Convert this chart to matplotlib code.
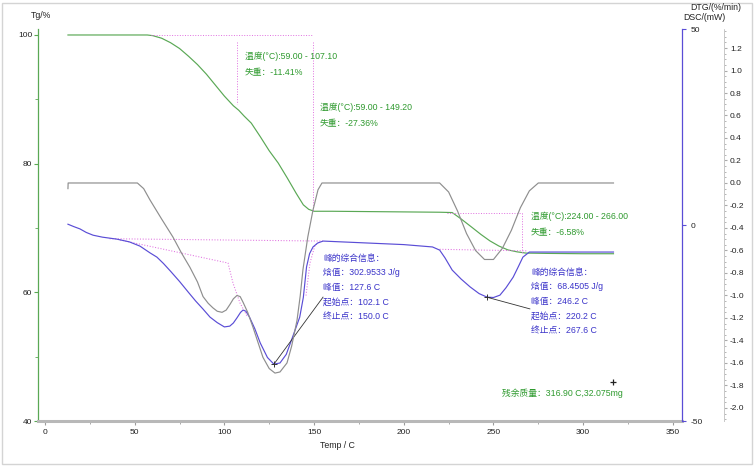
import numpy as np
import matplotlib
matplotlib.use("Agg")
import matplotlib.pyplot as plt
from matplotlib.patches import Rectangle
from matplotlib.ticker import FixedLocator, MultipleLocator

plt.rcParams['font.family'] = ['Liberation Sans', 'Noto Sans CJK SC', 'DejaVu Sans']
plt.rcParams['axes.unicode_minus'] = False

# %% DATA
tg_temp = [12.8, 30, 57, 60, 65, 70, 75, 80, 85, 90, 95, 100, 105, 108, 111, 115, 120, 125,
           130, 135, 140, 144, 147, 150, 160, 180, 200, 220, 227, 232, 238, 243, 248, 253,
           258, 263, 268, 280, 300, 316.9]
tg_val = [100, 100, 100, 99.9, 99.5, 98.8, 97.9, 96.7, 95.4, 93.9, 92.2, 90.5, 89.0, 88.3,
          87.4, 86.3, 84.2, 82.0, 80.1, 77.8, 75.4, 73.6, 72.9, 72.6, 72.6, 72.55, 72.5,
          72.45, 72.4, 71.4, 70.1, 69.0, 68.0, 67.2, 66.6, 66.3, 66.1, 66.05, 66.0, 66.0]

dtg_temp = [12.8, 12.9, 30, 51.5, 55, 58.5, 65, 71.3, 76, 80.8, 85, 88.1, 91, 93.6, 96, 98.7,
            101, 103.1, 105, 107.0, 108.8, 110.4, 113, 115.9, 119, 121.5, 125, 128.2, 131,
            134.9, 137.5, 140.5, 142.3, 143.8, 146.5, 149.4, 152.2, 154.4, 180, 200, 220,
            225, 230, 235, 240, 245, 250, 255, 260, 265, 270, 275, 300, 316.9]
dtg_val = [-0.05, 0.0, 0.0, 0.0, -0.05, -0.15, -0.32, -0.48, -0.62, -0.75, -0.88, -1.01,
           -1.07, -1.11, -1.14, -1.15, -1.13, -1.08, -1.03, -1.00, -1.01, -1.06, -1.15,
           -1.28, -1.43, -1.55, -1.65, -1.69, -1.68, -1.60, -1.45, -1.22, -1.00, -0.77,
           -0.48, -0.24, -0.06, 0.0, 0.0, 0.0, 0.0, -0.08, -0.25, -0.45, -0.60, -0.68,
           -0.68, -0.58, -0.42, -0.22, -0.07, 0.0, 0.0, 0.0]

dsc_temp = [12.8, 16, 19.5, 23, 26.8, 32, 40, 47, 53, 58.5, 62.4, 66, 70, 75, 80, 84, 88, 92,
            96, 100, 103, 105, 107, 109, 110.4, 112, 114, 117, 120, 124, 127.6, 131, 134.5,
            138, 142, 144, 145.8, 147.5, 149.4, 152, 155, 180, 200, 216, 220, 223, 227, 232,
            237, 242, 246.4, 250, 253.6, 257, 261, 264, 266.4, 270, 290, 316.9]
dsc_val = [0.2, -0.4, -1.0, -1.9, -2.6, -3.1, -3.6, -4.3, -5.4, -7.1, -8.2, -9.8, -11.8,
           -14.4, -17.2, -19.4, -21.4, -23.5, -24.9, -26.0, -25.8, -25.0, -23.7, -22.3,
           -21.7, -22.0, -23.5, -26.5, -30.1, -33.8, -35.5, -35.2, -33.0, -28.6, -23.5,
           -18.5, -10.7, -7.3, -5.6, -4.6, -4.1, -4.6, -5.0, -5.6, -6.4, -8.4, -11.5, -13.8,
           -15.8, -17.5, -18.4, -18.5, -17.9, -16.0, -13.3, -10.5, -8.2, -6.9, -6.9, -6.9]

# dotted baselines / integration helper lines (DSC units)
base1_temp, base1_val = [36, 155], [-3.5, -4.1]
base2_temp, base2_val = [41.8, 102, 104.8, 108.7, 113], [-3.8, -9.7, -14.8, -19.9, -23.5]
flank_temp, flank_val = [145.5, 147.7, 150.5, 153.5], [-18, -9.7, -5.2, -4.1]
base3_temp, base3_val = [220, 268.7], [-6.2, -6.6]

# mass loss steps
step_start = [59.0, 59.0, 224.0]
step_end = [107.1, 149.2, 266.0]
step_tg_top = [98.9, 98.9, 72.4]
step_tg_bot = [89.3, 72.64, 66.0]

peak_temp = [127.6, 246.2]
peak_dsc = [-35.5, -18.4]
leader_temp = [155.0, 270.3]
leader_dsc = [-18.4, -21.4]
residue_temp, residue_tg = 316.9, 46.1

x_ticks = [0, 50, 100, 150, 200, 250, 300, 350]
tg_ticks = [40, 60, 80, 100]
dsc_ticks = [-50, 0, 50]
dtg_ticks = [1.2, 1.0, 0.8, 0.6, 0.4, 0.2, 0.0, -0.2, -0.4, -0.6, -0.8, -1.0, -1.2, -1.4,
             -1.6, -1.8, -2.0]

tg_notes = [["温度(°C):59.00 - 107.10", "失重：-11.41%"],
            ["温度(°C):59.00 - 149.20", "失重：-27.36%"],
            ["温度(°C):224.00 - 266.00", "失重：-6.58%"]]
peak_notes = [["峰的综合信息：", "焓值：302.9533 J/g", "峰值：127.6 C", "起始点：102.1 C", "终止点：150.0 C"],
              ["峰的综合信息：", "焓值：68.4505 J/g", "峰值：246.2 C", "起始点：220.2 C", "终止点：267.6 C"]]
residue_note = "残余质量：316.90 C,32.075mg"

# %% STYLE
W, H = 754, 467
green = '#5aa855'
green_txt = '#2f9a2f'
blue = '#5a4dd6'
blue_txt = '#3a33c9'
gray = '#8e8e8e'
magenta = '#e070e0'
fs = 6.3     # annotation text
fs_tick = 6.0

fig = plt.figure(figsize=(W / 100, H / 100), dpi=100)
ax = fig.add_axes([38 / W, 1 - 421 / H, (682 - 38) / W, (421 - 29) / H])
ax_dsc = ax.twinx()
ax_dtg = ax.twinx()

def px(x, y, s, size=fs, **kw):
    fig.text(x / W, 1 - y / H, s, va='center', fontsize=size, **kw)

# %% TG (left axis)
ax.plot(tg_temp, tg_val, color=green, lw=0.85)
for i in range(3):
    ax.plot([step_end[i], step_end[i]], [step_tg_top[i], step_tg_bot[i]],
            color=magenta, ls=':', lw=0.7)
ax.plot([step_start[0], step_end[1]], [100, 100], color=magenta, ls=':', lw=0.7)
ax.plot([step_start[2], step_end[2]], [step_tg_top[2], step_tg_top[2]], color=magenta, ls=':', lw=0.7)
ax.plot([residue_temp], [residue_tg], marker='+', color='#222222', ms=5, mew=0.9)

ax.set_xlim(-3.9, 355.1)
ax.set_ylim(40, 100.93)
ax.set_xticks(x_ticks)
ax.xaxis.set_minor_locator(FixedLocator([t + 25 for t in x_ticks[:-1]]))
ax.set_yticks(tg_ticks)
ax.yaxis.set_minor_locator(MultipleLocator(10))
for s in ['top', 'right']:
    ax.spines[s].set_visible(False)
ax.spines['left'].set_color(green)
ax.spines['left'].set_linewidth(0.9)
ax.spines['bottom'].set_color('#b8b8b8')
ax.spines['bottom'].set_linewidth(2.2)
ax.tick_params(axis='x', which='both', colors='#9a9a9a', labelcolor='#222222',
               labelsize=fs_tick, length=3, pad=3)
ax.tick_params(axis='x', which='minor', length=2)
ax.tick_params(axis='y', which='both', colors=green, labelcolor='#222222',
               labelsize=fs_tick, length=3, pad=1)
ax.tick_params(axis='y', which='minor', length=2)

# %% DSC (right axis)
ax_dsc.plot(base1_temp, base1_val, color=magenta, ls=':', lw=0.75)
ax_dsc.plot(base2_temp, base2_val, color=magenta, ls=':', lw=0.75)
ax_dsc.plot(flank_temp, flank_val, color=magenta, ls=':', lw=0.75)
ax_dsc.plot(base3_temp, base3_val, color=magenta, ls=':', lw=0.75)
ax_dsc.plot(dsc_temp, dsc_val, color=blue, lw=0.85)
for i in range(2):
    ax_dsc.plot([peak_temp[i], leader_temp[i]], [peak_dsc[i], leader_dsc[i]],
                color='#333333', lw=0.6)
    ax_dsc.plot([peak_temp[i]], [peak_dsc[i]], marker='+', color='#333333', ms=5, mew=0.7)
ax_dsc.set_ylim(-50, 50)
ax_dsc.set_yticks(dsc_ticks)
for s in ['top', 'left', 'bottom']:
    ax_dsc.spines[s].set_visible(False)
ax_dsc.spines['right'].set_color(blue)
ax_dsc.spines['right'].set_linewidth(0.9)
ax_dsc.tick_params(axis='y', colors=blue, labelcolor='#222222', labelsize=fs_tick,
                   length=3, pad=3)

# %% DTG (second right axis)
ax_dtg.plot(dtg_temp, dtg_val, color=gray, lw=0.85)
ax_dtg.set_ylim(-2.116, 1.369)
ax_dtg.set_yticks(dtg_ticks)
ax_dtg.set_yticklabels([f'{v:.1f}' for v in dtg_ticks])
ax_dtg.yaxis.set_minor_locator(MultipleLocator(0.05))
for s in ['top', 'left', 'bottom']:
    ax_dtg.spines[s].set_visible(False)
ax_dtg.spines['right'].set_position(('outward', 30))
ax_dtg.spines['right'].set_color('#c8c8c8')
ax_dtg.spines['right'].set_linewidth(0.7)
ax_dtg.spines['right'].set_linestyle((0, (1, 1)))
ax_dtg.tick_params(axis='y', which='both', colors='#aaaaaa', labelcolor='#222222',
                   labelsize=fs_tick, length=2.5, pad=2)
ax_dtg.tick_params(axis='y', which='minor', length=1.2)

# %% TEXT
px(41, 16, "Tg/%", ha='center', color='#222222')
px(741, 8, "DTG/(%/min)", ha='right', color='#222222')
px(726, 17, "DSC/(mW)", ha='right', color='#222222')
px(337, 446, "Temp / C", ha='center', color='#222222')

tg_note_xy = [(245, 56), (320, 107), (531, 216)]
for (x, y), lines in zip(tg_note_xy, tg_notes):
    px(x, y, lines[0], color=green_txt)
    px(x, y + 17, lines[1], color=green_txt)

peak_note_xy = [(323, 258), (531, 272)]
for (x, y), lines in zip(peak_note_xy, peak_notes):
    for k, line in enumerate(lines):
        px(x, y + k * 14.8, line, color=blue_txt)

px(502, 393, residue_note, color=green_txt)

fig.add_artist(Rectangle((2 / W, 3 / H), 750 / W, 461 / H, transform=fig.transFigure,
                         fill=False, ec='#d4d4d4', lw=1))

fig.savefig('out.png', dpi=100)
